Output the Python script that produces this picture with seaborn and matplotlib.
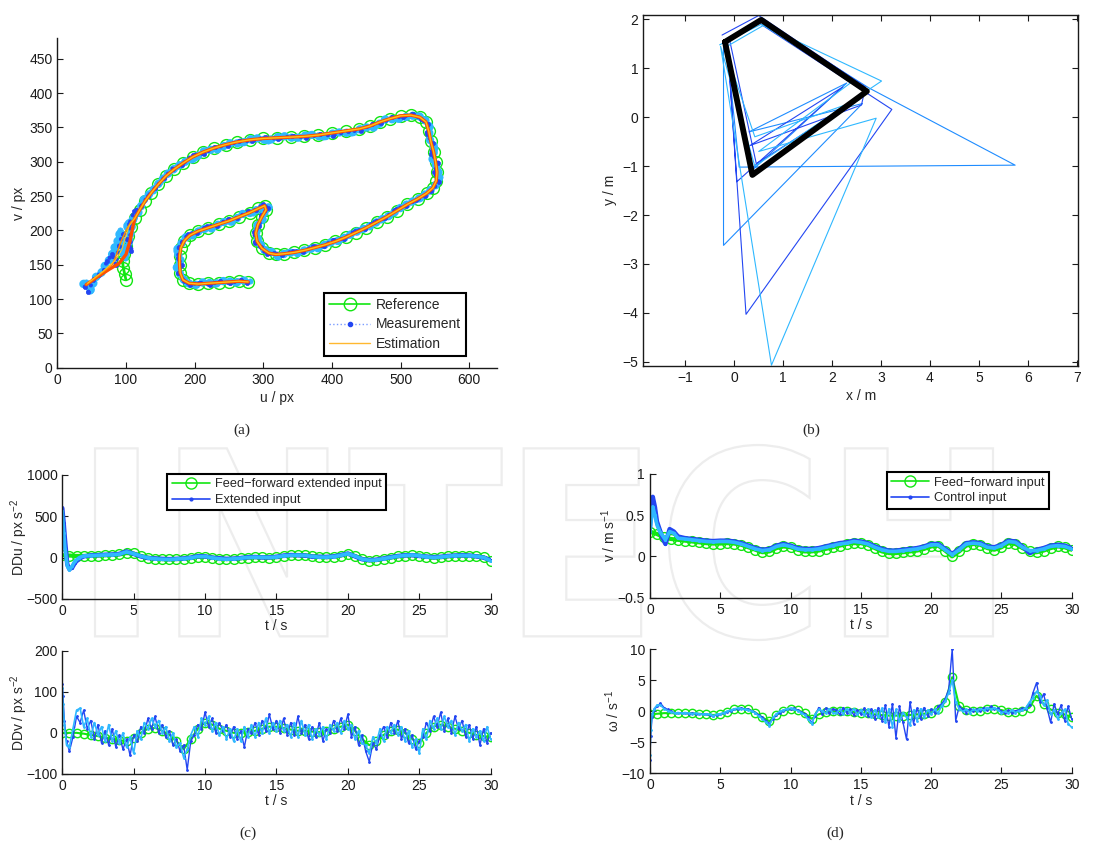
import numpy as np
import matplotlib
matplotlib.use("Agg")
import matplotlib.pyplot as plt
import seaborn as sns
from matplotlib.lines import Line2D
from matplotlib.textpath import TextPath
from matplotlib.font_manager import FontProperties
from matplotlib.patches import PathPatch
from matplotlib.transforms import Affine2D, IdentityTransform

# ------------------------------------------------------------------ data (a)
ref_u = [100, 98, 96, 95, 97, 100, 103, 107, 113, 120,
         128, 137, 147, 158, 170, 183, 197, 212, 228, 245,
         262, 280, 300, 320, 340, 360, 380, 400, 420, 440,
         455, 470, 485, 500, 515, 528, 537, 541, 544, 548,
         551, 553, 552, 547, 538, 525, 510, 495, 480, 465,
         450, 435, 420, 405, 390, 375, 360, 345, 330, 318,
         308, 298, 291, 289, 292, 298, 304, 302, 293, 280,
         265, 250, 235, 220, 205, 193, 185, 180, 178, 178,
         179, 183, 192, 205, 220, 235, 250, 265, 278]
ref_v = [128, 137, 146, 155, 165, 178, 192, 205, 218, 230,
         243, 255, 267, 279, 289, 298, 307, 314, 320, 325,
         329, 332, 334, 335, 336, 337, 339, 342, 345, 348,
         352, 358, 363, 367, 368, 365, 358, 345, 330, 315,
         300, 285, 272, 262, 254, 246, 238, 229, 220, 212,
         204, 197, 190, 184, 179, 175, 171, 168, 166, 165,
         167, 174, 184, 196, 208, 220, 230, 236, 232, 226,
         220, 214, 209, 204, 199, 193, 185, 175, 163, 150,
         138, 128, 123, 122, 123, 124, 125, 126, 125]

meas_dark = [(40, 118), (45, 110), (52, 128), (60, 135), (68, 142), (72, 155), (80, 165), (85, 150),
             (90, 178), (95, 195), (102, 188), (108, 170), (105, 210), (112, 228), (122, 235), (132, 250),
             (143, 262), (155, 276), (168, 290), (182, 296), (197, 310), (214, 312), (230, 322), (248, 323),
             (265, 331), (284, 330), (303, 336), (322, 333), (342, 338), (362, 335), (383, 340), (402, 338),
             (423, 345), (442, 345), (458, 355), (472, 356), (488, 365), (503, 365), (518, 370), (530, 362),
             (540, 355), (538, 340), (547, 328), (545, 312), (555, 298), (549, 285), (556, 270), (545, 258),
             (536, 250), (522, 244), (508, 236), (493, 231), (478, 218), (462, 213), (448, 202), (433, 199),
             (418, 188), (402, 186), (388, 177), (373, 177), (358, 169), (343, 170), (328, 164), (316, 167),
             (305, 165), (296, 176), (288, 182), (287, 198), (294, 206), (297, 222), (307, 232), (300, 238),
             (290, 230), (278, 228), (262, 218), (248, 216), (232, 207), (218, 206), (203, 197), (191, 195),
             (182, 183), (177, 176), (176, 160), (181, 149), (176, 138), (185, 126), (193, 121), (207, 124),
             (222, 121), (237, 126), (252, 123), (268, 128), (276, 123)]
meas_light = [(38, 122), (42, 125), (48, 112), (56, 132), (64, 138), (70, 150), (78, 160), (82, 172),
              (88, 185), (92, 200), (98, 160), (104, 180), (110, 215), (100, 205), (118, 226), (126, 245),
              (139, 258), (149, 270), (160, 282), (173, 292), (186, 300), (200, 305), (216, 317), (233, 318),
              (250, 327), (268, 327), (287, 335), (307, 331), (327, 338), (347, 334), (367, 340), (387, 336),
              (406, 343), (428, 342), (447, 350), (462, 350), (478, 362), (495, 362), (510, 366), (524, 368),
              (535, 362), (543, 350), (541, 335), (550, 320), (546, 305), (553, 292), (557, 278), (551, 266),
              (542, 257), (530, 248), (515, 241), (500, 233), (485, 222), (470, 215), (455, 206), (440, 200),
              (425, 193), (410, 185), (395, 182), (380, 174), (365, 173), (350, 167), (335, 168), (322, 162),
              (310, 170), (300, 172), (292, 188), (290, 194), (290, 206), (299, 216), (302, 228), (308, 234),
              (296, 234), (285, 226), (270, 224), (255, 213), (240, 212), (225, 203), (210, 202), (198, 193),
              (187, 190), (180, 180), (173, 170), (180, 158), (174, 146), (181, 132), (188, 124), (200, 120),
              (214, 125), (229, 122), (244, 127), (259, 124), (272, 127), (280, 126)]

est_a_start = [(42, 121), (58, 132), (75, 143), (90, 152), (100, 165), (106, 185), (110, 205)]
est_b_start = [(42, 121), (62, 136), (80, 150), (86, 164), (92, 182), (100, 200), (107, 212)]
est_c_start = [(44, 123), (66, 140), (84, 156), (94, 172), (99, 190), (105, 207)]

# ------------------------------------------------------------------ data (b)
traj_x = [-0.19, 0.55, 2.71, 0.37, -0.19]
traj_y = [1.54, 1.99, 0.53, -1.18, 1.54]
est_run1 = [(-0.20, 1.55), (0.55, 1.98), (2.75, 0.60), (5.74, -0.98), (0.10, -1.02), (-0.17, 1.60),
            (0.57, 2.03), (2.70, 0.52), (0.40, -1.20), (-0.22, 1.50), (-0.22, -2.62), (2.62, 0.28),
            (0.30, -0.30), (2.30, 0.70), (0.35, -1.10), (-0.15, 1.55)]
est_run2 = [(-0.25, 1.68), (0.50, 2.08), (2.68, 0.62), (2.60, 0.25), (0.32, -0.58), (2.22, 0.62),
            (0.05, -1.32), (-0.14, 1.52), (0.24, -4.03), (3.22, 0.16), (0.50, 1.93), (-0.10, 1.60),
            (0.45, -0.95), (2.65, 0.45)]
est_run3 = [(-0.30, 1.48), (0.55, 1.90), (3.01, 0.74), (0.42, -1.00), (-0.28, 1.45), (0.76, -5.07),
            (2.90, -0.02), (0.50, -0.70), (2.40, 0.72), (0.60, 1.88), (-0.20, 1.42), (0.42, -0.40),
            (2.55, 0.35)]

# ------------------------------------------------------------------ data (c), (d)
t_half = list(np.arange(0, 30.01, 0.5))
t_smooth_head_c = [0, 0.1, 0.2, 0.35, 0.5, 0.7, 0.9, 1.2, 1.5]
t_smooth_head_d = [0, 0.1, 0.2, 0.35, 0.5, 0.7, 0.9, 1.1, 1.4, 1.7]
t_tail = list(np.arange(2, 30.01, 0.5))
t_noisy = [0, 0.05, 0.15, 0.3, 0.5, 0.75, 1.0] + list(np.arange(1.25, 30.01, 0.25))

ddu_ff = [30, 25, 20, 20,
          22, 25, 28, 32, 38, 55, 50, 20, 0, -12, -18, -20, -18, -15, -5, 10, 12, 0, -12, -18,
          -15, -8, 0, 5, 5, 0, 5, 20, 30, 32, 28, 15, 8, 5, 10, 25, 45, 20, -15, -35, -30, -15,
          0, 15, 25, 30, 25, 10, 0, 5, 15, 22, 25, 22, 18, 5, -35]
ddu_ext1 = [600, 420, 200, -80, -140, -120, -60, -10, 15,
            28, 30, 35, 38, 45, 75, 45, 15, -5, -10, -15, -18, -15, -10, 0, 18, 15, 0, -8, -15,
            -12, -5, 5, 8, 2, 3, 10, 25, 32, 28, 25, 12, 10, 8, 15, 30, 50, 15, -20, -30,
            -25, -10, 5, 20, 28, 30, 20, 12, 5, 10, 20, 25, 28, 25, 15, 0, -30]
ddu_ext2 = [560, 300, 100, -100, -150, -100, -40, 0, 20,
            25, 28, 32, 35, 42, 70, 48, 18, -2, -14, -20, -22, -16, -12, -2, 14, 14, -2, -14, -20,
            -14, -6, 2, 6, 4, 2, 8, 22, 28, 30, 26, 14, 6, 6, 12, 28, 48, 18, -18, -32,
            -28, -12, 2, 18, 26, 32, 24, 10, 2, 8, 18, 24, 26, 24, 16, 2, -38]

ddv_ff = [0, 0, 0, -2, -5, -8, -12, -15, -18, -20,
          -12, 0, 10, 12, 5, -5, -20, -40, -15, 10,
          25, 20, 10, 5, 0, 0, 2, 5, 10, 15,
          15, 12, 8, 5, 5, 3, 2, 5, 10, 15,
          20, 5, -15, -30, -20, -5, 5, 8, 0, -15,
          -25, 0, 15, 20, 15, 10, 5, 0, -5, -8, -10]
ddv_ext1 = [120, 90, 30, -20, -45, -10, 40,
            25, 55, 10, 30, -15, 20, -25, 5, -30, 10, -35, -5, -40, -15, -55, -5,
            -20, 15, 0, 35, 10, 40, 0, 20, -10, 5, -30, -15, -45, -30, -90, -20,
            -5, 20, 10, 50, 15, 35, 0, 25, 5, 20, -10, 15, -15, 5, -35, 10,
            0, 25, -5, 30, 5, 45, 10, 30, 0, 35, -5, 25, -5, 40, 0, 20,
            -15, 15, -10, 25, -20, 10, 0, 30, 5, 35, 10, 45, -10, 15, -30, -5,
            -45, -70, -25, -40, -5, 15, -10, 25, 0, 30, -15, 10, -25, -5, -40, -20,
            -10, 25, 5, 40, 15, 50, 5, 35, 0, 40, 10, 30, -10, 20, -15, 15,
            -30, 10, -25, 0]
ddv_ext2 = [110, 70, 20, -30, -35, 10, 55,
            60, 15, 35, -10, 25, -5, 15, -20, 20, -20, 5, -25, 0, -35, -10, -50,
            5, -15, 25, 10, 35, 15, 30, 0, 15, -20, 0, -35, -25, -60, -40, -5,
            15, -10, 35, 20, 40, 5, 25, -5, 15, -15, 10, -20, 10, -20, 15, -10,
            20, -10, 25, 0, 35, 0, 25, 5, 30, 5, 20, -10, 25, -10, 30, -5,
            20, -15, 10, -5, 15, -15, 20, 5, 25, 0, 30, 10, 20, -15, 5, -25,
            -30, -50, -10, -25, 10, -20, 15, 0, 20, -5, 15, -20, 5, -35, -15, -50,
            10, -15, 30, 10, 35, 10, 40, 15, 30, -5, 25, 5, 20, -20, 10, -10,
            5, -20, 15, -15]

v_ff = [0.3, 0.27, 0.23, 0.21,
        0.2, 0.19, 0.18, 0.17, 0.16, 0.155, 0.155, 0.16, 0.155, 0.14, 0.11, 0.08, 0.05, 0.06, 0.1,
        0.12, 0.11, 0.08, 0.06, 0.06, 0.07, 0.09, 0.11, 0.13, 0.15, 0.16, 0.16, 0.14, 0.1, 0.06,
        0.04, 0.04, 0.05, 0.06, 0.07, 0.09, 0.12, 0.13, 0.07, 0.0, 0.06, 0.13, 0.15, 0.14, 0.1,
        0.08, 0.11, 0.16, 0.15, 0.1, 0.06, 0.05, 0.07, 0.1, 0.12, 0.11, 0.08]
v_ctrl1 = [0.35, 0.55, 0.72, 0.6, 0.42, 0.32, 0.22, 0.15, 0.33, 0.3,
           0.24, 0.22, 0.21, 0.2, 0.19, 0.185, 0.19, 0.19, 0.18, 0.16, 0.13, 0.1, 0.08, 0.09, 0.13,
           0.15, 0.13, 0.1, 0.09, 0.09, 0.1, 0.12, 0.14, 0.16, 0.17, 0.19, 0.18, 0.16, 0.12, 0.09,
           0.07, 0.07, 0.08, 0.09, 0.1, 0.12, 0.15, 0.15, 0.09, 0.03, 0.09, 0.16, 0.17, 0.16, 0.12,
           0.11, 0.14, 0.19, 0.18, 0.12, 0.04, 0.08, 0.1, 0.13, 0.14, 0.13, 0.1]
v_ctrl2 = [0.3, 0.45, 0.6, 0.5, 0.38, 0.3, 0.25, 0.2, 0.3, 0.28,
           0.22, 0.21, 0.2, 0.19, 0.18, 0.175, 0.18, 0.18, 0.17, 0.15, 0.12, 0.09, 0.07, 0.08, 0.12,
           0.14, 0.12, 0.09, 0.08, 0.08, 0.09, 0.11, 0.13, 0.15, 0.16, 0.18, 0.17, 0.15, 0.11, 0.08,
           0.06, 0.06, 0.07, 0.08, 0.09, 0.11, 0.14, 0.14, 0.08, 0.02, 0.08, 0.15, 0.16, 0.15, 0.11,
           0.1, 0.13, 0.18, 0.17, 0.11, 0.07, 0.07, 0.09, 0.12, 0.13, 0.12, 0.09]

w_ff = [-0.5, -0.4, -0.3, -0.3, -0.3, -0.3, -0.35, -0.4, -0.5, -0.6,
        -0.5, -0.1, 0.3, 0.4, 0.3, -0.2, -1.0, -1.6, -0.6, 0.1,
        0.3, 0.2, -0.3, -1.2, -0.5, -0.1, 0.0, 0.0, 0.0, -0.1,
        -0.2, -0.3, -0.5, -0.6, -0.7, -0.7, -0.7, -0.6, -0.5, -0.4,
        -0.2, 0.3, 1.5, 5.5, 0.8, 0.2, 0.0, 0.1, 0.3, 0.4,
        0.2, -0.1, -0.1, 0.1, 0.6, 2.5, 1.2, 0.3, -0.2, -0.5, -1.0]
w_ctrl1 = [-7.8, -4.0, -1.0, 0.2, 0.8, 1.3, 0.6,
           0.3, 0.0, -0.2, -0.3, -0.2, -0.3, -0.4, -0.3, -0.4, -0.5, -0.4, -0.5,
           -0.6, -0.8, -0.6, -0.5, -0.3, -0.1, 0.1, 0.3, 0.4, 0.5, 0.4, 0.3,
           0.1, -0.2, -0.6, -1.0, -1.5, -2.0, -1.2, -0.6, -0.2, 0.1, 0.3, 0.4,
           0.5, 0.2, -0.1, -0.4, -1.0, -1.8, -0.8, 0.6, -0.4, 0.5, -0.3, 0.4,
           0.2, -0.5, 0.6, -0.2, 0.3, -0.6, 0.2, -0.4, 0.5, -0.8, 0.4, -1.2,
           0.6, -1.5, 1.0, -2.5, 1.2, -4.3, 0.8, -1.8, -4.5, 1.5, -2.0, 0.5,
           -1.2, 0.6, -0.8, 0.3, -0.2, 0.8, 1.2, 2.0, 3.5, 10.0, -1.5, 0.8,
           0.3, -0.2, 0.4, 0.0, 0.3, 0.0, 0.6, 0.2, 0.8, 0.3, 0.5, 0.0,
           -0.3, 0.2, -0.2, 0.1, 0.2, 0.5, 0.3, 1.0, 3.0, 4.6, 1.5, 2.8,
           0.5, -1.8, 1.2, -0.5, 1.0, -1.5, 0.8, -1.2]
w_ctrl2 = [-7.0, -3.0, -0.5, 0.4, 1.0, 1.0, 0.4,
           0.1, -0.1, -0.3, -0.2, -0.3, -0.2, -0.3, -0.4, -0.3, -0.4, -0.5, -0.4,
           -0.5, -0.7, -0.5, -0.4, -0.2, 0.0, 0.2, 0.4, 0.5, 0.4, 0.3, 0.2,
           0.0, -0.3, -0.8, -1.2, -1.8, -2.3, -1.0, -0.4, 0.0, 0.2, 0.4, 0.5,
           0.3, 0.1, -0.2, -0.6, -1.3, -2.0, -0.5, 0.3, 0.1, -0.3, 0.4, -0.2,
           -0.3, 0.3, -0.4, 0.4, -0.2, 0.4, -0.5, 0.2, -0.6, 0.3, -0.9, 0.2,
           -1.0, 0.5, -1.8, 0.4, -2.5, 0.3, -1.5, -0.2, -1.0, -2.2, 0.2, -1.5,
           0.4, -1.0, 0.2, -0.5, 0.3, -0.3, 0.9, 1.6, 3.0, 5.0, 1.5, 0.4,
           0.0, 0.3, -0.2, 0.3, 0.1, 0.4, 0.2, 0.6, 0.3, 0.6, 0.2, -0.2,
           0.0, -0.3, 0.2, -0.2, 0.1, 0.2, 0.6, 1.5, 2.2, 3.2, 2.5, 1.0,
           1.8, -0.5, 0.2, -1.2, -0.3, 0.3, -2.0, -2.6]

# ------------------------------------------------------------------ style
GREEN = "#12e612"
DBLUE = "#2346f2"
MBLUE = "#1e8cff"
LBLUE = "#2fb8ff"
ORANGE = "#ff4e00"
ORANGE2 = "#ff8a00"
YELLOW = "#ffc21a"

sns.set_style("ticks")
plt.rcParams.update({
    "font.family": ["Liberation Sans", "DejaVu Sans"],
    "font.size": 10,
    "axes.labelsize": 10,
    "xtick.labelsize": 10,
    "ytick.labelsize": 10,
    "xtick.direction": "in",
    "ytick.direction": "in",
    "xtick.major.size": 4,
    "ytick.major.size": 4,
    "xtick.major.width": 0.8,
    "ytick.major.width": 0.8,
    "axes.linewidth": 1.0,
    "axes.edgecolor": "#1a1a1a",
    "xtick.color": "#1a1a1a",
    "ytick.color": "#1a1a1a",
    "mathtext.default": "regular",
})


def draw(ax, x, y, **kw):
    sns.lineplot(x=np.asarray(x, dtype=float), y=np.asarray(y, dtype=float),
                 sort=False, estimator=None, ax=ax, **kw)


def split(pts):
    return [p[0] for p in pts], [p[1] for p in pts]


def boxed_legend(ax, handles, labels, **kw):
    leg = ax.legend(handles, labels, fancybox=False, framealpha=1, edgecolor="black",
                    borderaxespad=0, **kw)
    leg.get_frame().set_linewidth(1.5)
    return leg


fig = plt.figure(figsize=(10.94, 8.43), dpi=100)

# faint watermark behind the lower panels
tp = TextPath((0, 0), "INTECH", size=100, prop=FontProperties(family="DejaVu Sans", weight="bold"))
ext = tp.get_extents()
wm_tr = (Affine2D().translate(-ext.x0, -ext.y0)
         .scale((993 - 95) / ext.width, (640 - 445) / ext.height)
         .translate(95, 843 - 640))
fig.add_artist(PathPatch(wm_tr.transform_path(tp), facecolor="none", edgecolor="#ededed",
                         lw=1.6, transform=IdentityTransform(), zorder=-10))

axA = fig.add_axes([0.0524, 0.5638, 0.4016, 0.3908])
axB = fig.add_axes([0.5880, 0.5662, 0.3976, 0.4160])
axC1 = fig.add_axes([0.0569, 0.2895, 0.3916, 0.1471])
axC2 = fig.add_axes([0.0569, 0.0819, 0.3916, 0.1463])
axD1 = fig.add_axes([0.5941, 0.2910, 0.3855, 0.1471])
axD2 = fig.add_axes([0.5941, 0.0827, 0.3855, 0.1471])
for ax in (axA, axB, axC1, axC2, axD1, axD2):
    ax.set_facecolor("none")
for ax in (axA, axC1, axC2, axD1, axD2):
    ax.spines["top"].set_visible(False)
    ax.spines["right"].set_visible(False)

# ---------------- (a)
draw(axA, ref_u, ref_v, color=GREEN, lw=2.0, marker="o", markersize=8.5,
     markerfacecolor="none", markeredgecolor=GREEN, markeredgewidth=1.0)
mu, mv = split(meas_light)
draw(axA, mu, mv, color=LBLUE, lw=6.0, linestyle=(0, (0.05, 0.8)), dash_capstyle="round",
     marker="o", markersize=3.8, markerfacecolor=LBLUE, markeredgecolor=LBLUE,
     markeredgewidth=0.5)
mu, mv = split(meas_dark)
draw(axA, mu, mv, color=DBLUE, lw=3.0, linestyle=(0, (0.05, 1.6)), dash_capstyle="round",
     marker="o", markersize=3.0, markerfacecolor=DBLUE, markeredgecolor=DBLUE,
     markeredgewidth=0.5)
for start, col, lw in ((est_a_start, ORANGE, 2.4), (est_b_start, ORANGE2, 1.1), (est_c_start, YELLOW, 0.8)):
    su, sv = split(start)
    draw(axA, su + ref_u[8:], sv + ref_v[8:], color=col, lw=lw)
axA.set_xlim(0, 640)
axA.set_ylim(0, 480)
axA.set_xticks(range(0, 601, 100))
axA.set_yticks(range(0, 451, 50))
axA.set_xlabel("u / px", labelpad=3)
axA.set_ylabel("v / px", labelpad=2)
boxed_legend(
    axA,
    [Line2D([], [], color=GREEN, lw=1.2, marker="o", ms=9, mfc="none", mec=GREEN),
     Line2D([], [], color="#7a9cff", lw=1.0, ls=":", marker=".", ms=6, mfc=DBLUE, mec=DBLUE),
     Line2D([], [], color="#ffb830", lw=1.0)],
    ["Reference", "Measurement", "Estimation"],
    loc="lower right", bbox_to_anchor=(0.93, 0.036), fontsize=10, handlelength=3.0,
    labelspacing=0.4, borderpad=0.35, handletextpad=0.4)

# ---------------- (b)
for pts, col in ((est_run1, MBLUE), (est_run2, DBLUE), (est_run3, LBLUE)):
    bx, by = split(pts)
    draw(axB, bx, by, color=col, lw=0.8)
draw(axB, traj_x, traj_y, color="black", lw=4.2)
axB.set_xlim(-1.86, 7.03)
axB.set_ylim(-5.08, 2.09)
axB.set_xticks(range(-1, 8))
axB.set_yticks(range(-5, 3))
axB.tick_params(top=True, right=True)
axB.set_xlabel("x / m", labelpad=3)
axB.set_ylabel("y / m", labelpad=4)

# ---------------- (c)
t_c = t_smooth_head_c + t_tail
draw(axC1, t_half, ddu_ff, color=GREEN, lw=3.0, marker="o", markersize=7,
     markerfacecolor="none", markeredgecolor=GREEN, markeredgewidth=1.0)
draw(axC1, t_c, ddu_ext1, color=DBLUE, lw=3.2, marker=".", markersize=3,
     markeredgecolor=DBLUE)
draw(axC1, t_c, ddu_ext2, color=LBLUE, lw=2.6, marker=".", markersize=3,
     markeredgecolor=LBLUE)
axC1.set_ylim(-500, 1000)
axC1.set_yticks([-500, 0, 500, 1000])
axC1.set_ylabel("DDu / px s$^{-2}$", labelpad=-3)
boxed_legend(
    axC1,
    [Line2D([], [], color=GREEN, lw=1.2, marker="o", ms=8, mfc="none", mec=GREEN),
     Line2D([], [], color=DBLUE, lw=1.2, marker=".", ms=4)],
    ["Feed\u2212forward extended input", "Extended input"],
    loc="upper left", bbox_to_anchor=(0.245, 1.01), fontsize=9.2, handlelength=3.0,
    labelspacing=0.3, borderpad=0.35, handletextpad=0.4)

draw(axC2, t_half, ddv_ff, color=GREEN, lw=1.5, marker="o", markersize=6,
     markerfacecolor="none", markeredgecolor=GREEN, markeredgewidth=1.0)
draw(axC2, t_noisy, ddv_ext1, color=DBLUE, lw=1.0, marker=".", markersize=2.5,
     markeredgecolor=DBLUE)
draw(axC2, t_noisy, ddv_ext2, color=LBLUE, lw=1.2, marker=".", markersize=2.5,
     markeredgecolor=LBLUE)
axC2.set_ylim(-100, 200)
axC2.set_yticks([-100, 0, 100, 200])
axC2.set_ylabel("DDv / px s$^{-2}$", labelpad=-3)

# ---------------- (d)
t_d = t_smooth_head_d + t_tail
draw(axD1, t_half, v_ff, color=GREEN, lw=3.0, marker="o", markersize=7,
     markerfacecolor="none", markeredgecolor=GREEN, markeredgewidth=1.0)
draw(axD1, t_d, v_ctrl1, color=DBLUE, lw=3.2, marker=".", markersize=3,
     markeredgecolor=DBLUE)
draw(axD1, t_d, v_ctrl2, color=LBLUE, lw=2.6, marker=".", markersize=3,
     markeredgecolor=LBLUE)
axD1.set_ylim(-0.5, 1)
axD1.set_yticks([-0.5, 0, 0.5, 1])
axD1.set_yticklabels(["\u22120.5", "0", "0.5", "1"])
axD1.set_ylabel("v / m s$^{-1}$", labelpad=0)
boxed_legend(
    axD1,
    [Line2D([], [], color=GREEN, lw=1.2, marker="o", ms=8, mfc="none", mec=GREEN),
     Line2D([], [], color=DBLUE, lw=1.2, marker=".", ms=4)],
    ["Feed\u2212forward input", "Control input"],
    loc="upper left", bbox_to_anchor=(0.561, 1.012), fontsize=9.2, handlelength=3.0,
    labelspacing=0.3, borderpad=0.35, handletextpad=0.4)

draw(axD2, t_half, w_ff, color=GREEN, lw=1.5, marker="o", markersize=6,
     markerfacecolor="none", markeredgecolor=GREEN, markeredgewidth=1.0)
draw(axD2, t_noisy, w_ctrl1, color=DBLUE, lw=1.0, marker=".", markersize=2.5,
     markeredgecolor=DBLUE)
draw(axD2, t_noisy, w_ctrl2, color=LBLUE, lw=1.2, marker=".", markersize=2.5,
     markeredgecolor=LBLUE)
axD2.set_ylim(-10, 10)
axD2.set_yticks([-10, -5, 0, 5, 10])
axD2.set_ylabel("\u03c9 / s$^{-1}$", labelpad=0)

for ax in (axC1, axC2, axD1, axD2):
    ax.set_xlim(0, 30)
    ax.set_xticks(range(0, 31, 5))
    ax.set_xlabel("t / s", labelpad=1)

# captions
for txt, x, y in (("(a)", 242, 430), ("(b)", 811, 430), ("(c)", 248, 833), ("(d)", 835, 833)):
    fig.text(x / 1094, 1 - y / 843, txt, ha="center", va="center", fontsize=11,
             family=["Liberation Serif", "DejaVu Serif"])

fig.savefig("out.png", dpi=100)
